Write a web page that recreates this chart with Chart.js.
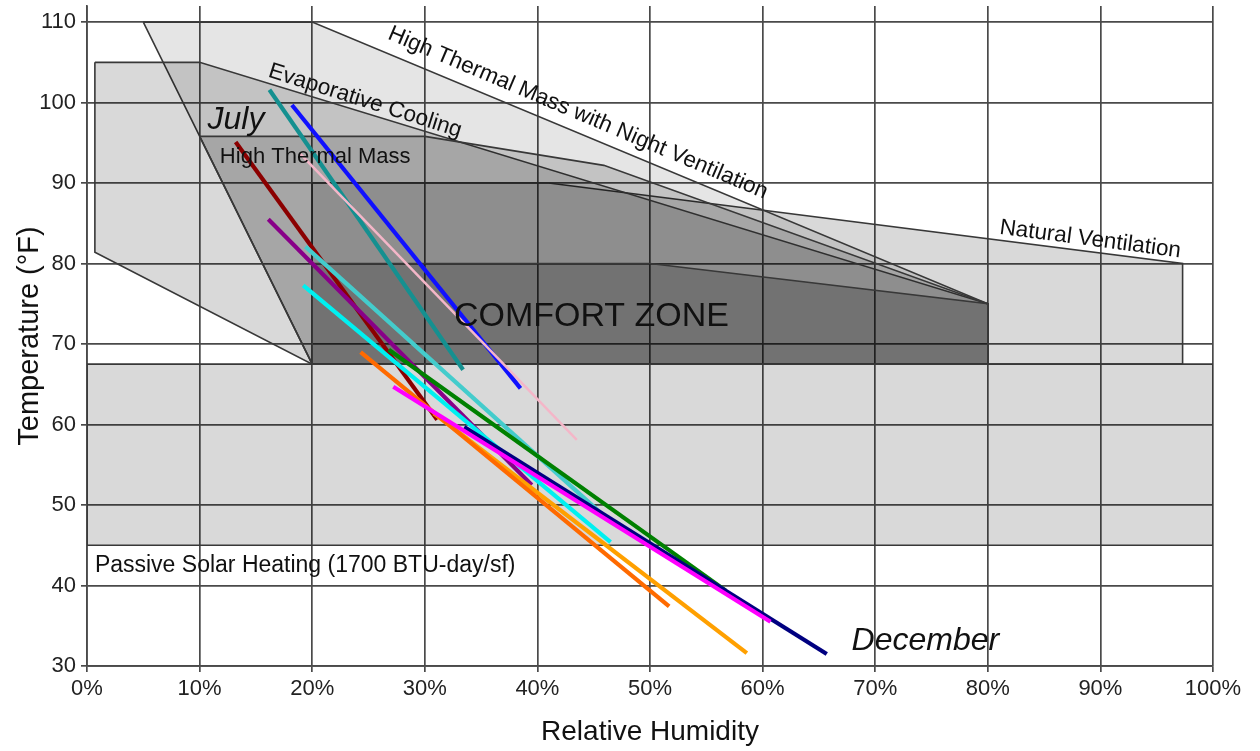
<!DOCTYPE html>
<html>
<head>
<meta charset="utf-8">
<script src="https://cdn.jsdelivr.net/npm/chart.js@4.4.1/dist/chart.umd.min.js"></script>
<style>
  html, body { margin: 0; padding: 0; background: #fff; }
  canvas { display: block; }
</style>
</head>
<body>
<canvas id="bioclimatic" width="1260" height="751"></canvas>
<script>
// Axis ticks
const rhTicks = [0, 10, 20, 30, 40, 50, 60, 70, 80, 90, 100];
const tempTicks = [30, 40, 50, 60, 70, 80, 90, 100, 110];

// Monthly lines (start -> end)
const startRH   = [27.2, 33.5, 26.8, 24.3, 30.8, 19.2, 19.4, 16.1, 13.2, 18.9, 18.2, 16.2];
const startTemp = [64.7, 59.7, 69.3, 69.0, 61.4, 77.3, 82.1, 85.5, 95.1, 93.7, 99.7, 101.6];
const endRH     = [60.7, 65.7, 56.7, 51.7, 58.6, 46.5, 46.5, 39.5, 31.1, 43.5, 38.5, 33.4];
const endTemp   = [35.5, 31.5, 39.4, 37.4, 31.6, 45.4, 47.9, 52.5, 60.6, 58.1, 64.5, 66.8];

// Zone outlines (relative humidity %, temperature F)
const passiveRH = [0, 100, 100, 0, 0];
const passiveT  = [67.5, 67.5, 45, 45, 67.5];
const ventRH    = [20, 41, 97.3, 97.3, 20, 20];
const ventT     = [90, 90, 80, 67.5, 67.5, 90];
const nightRH   = [5, 20, 80, 80, 20, 5];
const nightT    = [110, 110, 75, 67.5, 67.5, 110];
const evapRH    = [0.7, 10, 80, 80, 20, 0.7, 0.7];
const evapT     = [105, 105, 75, 67.5, 67.5, 81.4, 105];
const massRH    = [10, 30, 45.9, 80, 80, 20, 10];
const massT     = [95.8, 95.8, 92.2, 75, 67.5, 67.5, 95.8];
const comfortRH = [20, 50, 80, 80, 20, 20];
const comfortT  = [80, 80, 75, 67.5, 67.5, 80];

// Texts on the chart
const chartTexts = ['High Thermal Mass with Night Ventilation', 'Evaporative Cooling', 'Natural Ventilation',
  'High Thermal Mass', 'July', 'COMFORT ZONE', 'Passive Solar Heating (1700 BTU-day/sf)', 'December'];

const FONT = "'Liberation Sans', Arial, Helvetica, sans-serif";
Chart.defaults.font.family = FONT;

const lineColors = ['#ff00ff', '#000080', '#008000', '#ff6a00', '#ffa000', '#00f0f0',
  '#44cccc', '#880088', '#8b0000', '#f4b6c8', '#1010ff', '#159090'];

function pts(xs, ys) {
  return xs.map((v, i) => ({ x: v, y: ys[i] }));
}

// where the texts go (data coords), angle in degrees
const textSpots = [
  { rh: 43.6, t: 98.7, angle: 23, align: 'center', font: '22.5px ' + FONT },
  { rh: 24.7, t: 100.2, angle: 17.5, align: 'center', font: '22.5px ' + FONT },
  { rh: 89.1, t: 83.0, angle: 7.5, align: 'center', font: '22.5px ' + FONT },
  { rh: 11.8, t: 93.2, angle: 0, align: 'left', font: '22px ' + FONT },
  { rh: 10.7, t: 97.8, angle: 0, align: 'left', font: 'italic 32px ' + FONT },
  { rh: 44.8, t: 73.4, angle: 0, align: 'center', font: '34px ' + FONT },
  { rh: 0.7, t: 42.5, angle: 0, align: 'left', font: '23px ' + FONT },
  { rh: 67.9, t: 33.1, angle: 0, align: 'left', font: 'italic 32px ' + FONT }
];

const textPlugin = {
  id: 'chartTexts',
  afterDatasetsDraw(chart) {
    const { ctx, scales: { x, y } } = chart;
    textSpots.forEach((s, i) => {
      ctx.save();
      ctx.translate(x.getPixelForValue(s.rh), y.getPixelForValue(s.t));
      ctx.rotate(s.angle * Math.PI / 180);
      ctx.font = s.font;
      ctx.fillStyle = '#111';
      ctx.textAlign = s.align;
      ctx.textBaseline = 'middle';
      ctx.fillText(chartTexts[i], 0, 0);
      ctx.restore();
    });
  }
};

function zone(label, xs, ys, alpha) {
  return {
    label: label,
    data: pts(xs, ys),
    showLine: true,
    fill: 'shape',
    backgroundColor: 'rgba(0,0,0,' + alpha + ')',
    borderColor: '#383838',
    borderWidth: 1.6,
    pointRadius: 0,
    tension: 0
  };
}

const datasets = [];
// monthly lines first so they are drawn on top
startRH.forEach((v, i) => {
  datasets.push({
    label: 'line ' + (i + 1),
    data: pts([startRH[i], endRH[i]], [startTemp[i], endTemp[i]]),
    showLine: true,
    fill: false,
    borderColor: lineColors[i],
    borderWidth: i === 9 ? 2.5 : 4.2,
    pointRadius: 0,
    tension: 0
  });
});
datasets.push(zone('Comfort Zone', comfortRH, comfortT, 0.2));
datasets.push(zone('High Thermal Mass', massRH, massT, 0.15));
datasets.push(zone('Evaporative Cooling', evapRH, evapT, 0.15));
datasets.push(zone('High Thermal Mass with Night Ventilation', nightRH, nightT, 0.1));
datasets.push(zone('Natural Ventilation', ventRH, ventT, 0.15));
datasets.push(zone('Passive Solar Heating', passiveRH, passiveT, 0.15));

const gridStyle = { color: '#4a4a4a', lineWidth: 1.7, tickLength: 6 };

// fixed box sizes, no extra padding from the tick labels
function fixX(s) {
  s.height = 85;
  s.paddingLeft = 0; s.paddingRight = 0; s.paddingTop = 0; s.paddingBottom = 0;
}
function fixY(s) {
  s.width = 87;
  s.paddingLeft = 0; s.paddingRight = 0; s.paddingTop = 0; s.paddingBottom = 0;
}

new Chart(document.getElementById('bioclimatic'), {
  type: 'scatter',
  data: { datasets: datasets },
  options: {
    responsive: false,
    animation: false,
    events: [],
    layout: { autoPadding: false, padding: { top: 6, right: 47, bottom: 0, left: 0 } },
    plugins: { legend: { display: false }, tooltip: { enabled: false } },
    scales: {
      x: {
        type: 'linear', min: 0, max: 100,
        afterBuildTicks: s => { s.ticks = rhTicks.map(v => ({ value: v })); },
        afterFit: fixX,
        grid: gridStyle,
        border: { color: '#4a4a4a', width: 1.7 },
        ticks: { callback: v => v + '%', font: { size: 22 }, color: '#222', padding: 4, maxRotation: 0 },
        title: { display: true, text: 'Relative Humidity', font: { size: 28 }, color: '#111', padding: { top: 0, bottom: 2 } }
      },
      y: {
        type: 'linear', min: 30, max: 112,
        afterBuildTicks: s => { s.ticks = tempTicks.map(v => ({ value: v })); },
        afterFit: fixY,
        grid: gridStyle,
        border: { color: '#4a4a4a', width: 1.7 },
        ticks: { font: { size: 22 }, color: '#222', padding: 5 },
        title: { display: true, text: 'Temperature (°F)', font: { size: 29 }, color: '#111', padding: { top: 13, bottom: 0 } }
      }
    }
  },
  plugins: [textPlugin]
});
</script>
</body>
</html>
